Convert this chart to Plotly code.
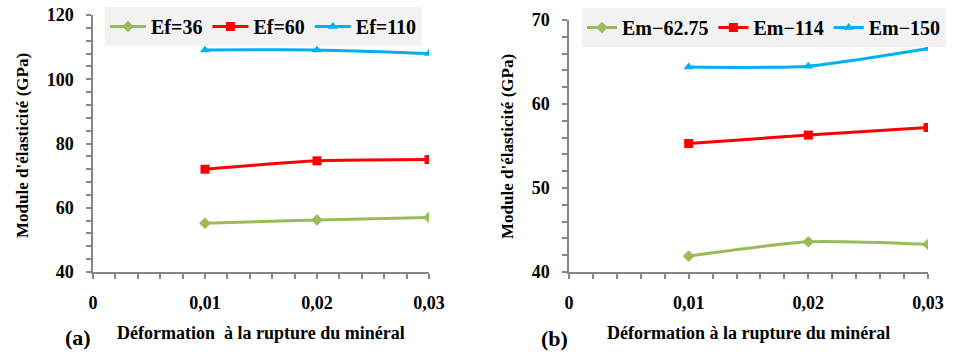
import plotly.graph_objects as go

# ---- data ----
strain = [0.01, 0.02, 0.03]
x_tickvals = [0, 0.01, 0.02, 0.03]
x_ticktext = ["0", "0,01", "0,02", "0,03"]

# panel (a)
ef36 = [55.2, 56.2, 57.0]
ef60 = [72.0, 74.6, 75.0]
ef110 = [109.1, 109.1, 108.0]
names_a = ["Ef=36", "Ef=60", "Ef=110"]

# panel (b)
em62 = [41.9, 43.6, 43.3]
em114 = [55.3, 56.3, 57.2]
em150 = [64.4, 64.5, 66.6]
names_b = ["Em\u221262.75", "Em\u2212114", "Em\u2212150"]

colors = ["#9BBB59", "#FF0000", "#00B0F0"]
symbols = ["diamond", "square", "triangle-up"]

W, H = 960, 352
SERIF = "Liberation Serif"
AX = "#868686"

fig = go.Figure()

for i, (vals, name) in enumerate(zip([ef36, ef60, ef110], names_a)):
    fig.add_trace(go.Scatter(
        x=strain, y=vals, name=name, mode="lines+markers",
        line=dict(color=colors[i], width=3, shape="spline", smoothing=0.6),
        marker=dict(symbol=symbols[i], size=9, color=colors[i]),
        xaxis="x", yaxis="y", legend="legend"))

for i, (vals, name) in enumerate(zip([em62, em114, em150], names_b)):
    fig.add_trace(go.Scatter(
        x=strain, y=vals, name=name, mode="lines+markers",
        line=dict(color=colors[i], width=3, shape="spline", smoothing=0.6),
        marker=dict(symbol=symbols[i], size=9, color=colors[i]),
        xaxis="x2", yaxis="y2", legend="legend2"))


def px_x(p):
    return p / W


def px_y(p):
    return 1 - p / H


tickfont = dict(family=SERIF, size=18, color="black", weight="bold")

xa_dom = [px_x(93), px_x(429)]
ya_dom = [px_y(272), px_y(15)]
xb_dom = [px_x(569), px_x(928)]
yb_dom = [px_y(272), px_y(20)]


def xaxis(dom, anchor, overlay=None, inside=False):
    d = dict(domain=dom, anchor=anchor, range=[0, 0.03], automargin=False,
             showgrid=False, zeroline=False,
             tickvals=x_tickvals, ticktext=x_ticktext,
             ticks="inside" if inside else "outside", ticklen=5, tickwidth=1.5,
             tickcolor=AX,
             minor=dict(dtick=0.002, tick0=0, ticks="inside" if inside else "outside",
                        ticklen=5, tickwidth=1.5, tickcolor=AX, showgrid=False),
             tickfont=tickfont, fixedrange=True)
    if inside:
        d.update(showline=False, showticklabels=False, overlaying=overlay)
    else:
        d.update(showline=True, linecolor=AX, linewidth=1.5, ticklabelstandoff=9)
    return d


def yaxis(dom, anchor, rng, dtick, mdtick, overlay=None, inside=False):
    d = dict(domain=dom, anchor=anchor, range=rng, dtick=dtick, tick0=rng[0],
             automargin=False, showgrid=False, zeroline=False,
             ticks="inside" if inside else "outside", ticklen=5, tickwidth=1.5,
             tickcolor=AX,
             minor=dict(dtick=mdtick, tick0=rng[0], ticks="inside" if inside else "outside",
                        ticklen=5, tickwidth=1.5, tickcolor=AX, showgrid=False),
             tickfont=tickfont, fixedrange=True)
    if inside:
        d.update(showline=False, showticklabels=False, overlaying=overlay)
    else:
        d.update(showline=True, linecolor=AX, linewidth=1.5, ticklabelstandoff=9)
    return d


legend_font = dict(family=SERIF, size=20, color="black", weight="bold")
ytitle_font = dict(family=SERIF, size=17, color="black", weight="bold")
xtitle_font = dict(family=SERIF, size=18, color="black", weight="bold")
tag_font = dict(family=SERIF, size=22, color="black", weight="bold")


def ann(text, x, y, font, angle=0):
    return dict(text=text, textangle=angle, x=px_x(x), y=px_y(y),
                xref="paper", yref="paper", xanchor="center", yanchor="middle",
                showarrow=False, font=font)


fig.update_layout(
    width=W, height=H,
    margin=dict(l=0, r=0, t=0, b=0, autoexpand=False),
    paper_bgcolor="white", plot_bgcolor="white",
    showlegend=True,
    xaxis=xaxis(xa_dom, "y"),
    yaxis=yaxis(ya_dom, "x", [40, 120], 20, 4),
    xaxis2=xaxis(xb_dom, "y2"),
    yaxis2=yaxis(yb_dom, "x2", [40, 70], 10, 2),
    xaxis3=xaxis(xa_dom, "y", overlay="x", inside=True),
    yaxis3=yaxis(ya_dom, "x", [40, 120], 20, 4, overlay="y", inside=True),
    xaxis4=xaxis(xb_dom, "y2", overlay="x2", inside=True),
    yaxis4=yaxis(yb_dom, "x2", [40, 70], 10, 2, overlay="y2", inside=True),
    legend=dict(orientation="h", x=px_x(105), y=px_y(7), xanchor="left", yanchor="top",
                bgcolor="#F2F2F2", font=legend_font, itemwidth=36),
    legend2=dict(orientation="h", x=px_x(582), y=px_y(8), xanchor="left", yanchor="top",
                 bgcolor="#F2F2F2", font=legend_font, itemwidth=30),
    annotations=[
        ann("Module d'élasticité (GPa)", 22, 146, ytitle_font, -90),
        ann("Module d'élasticité (GPa)", 507, 146, ytitle_font, -90),
        ann("Déformation  à la rupture du minéral", 261, 333, xtitle_font),
        ann("Déformation à la rupture du minéral", 748, 333, xtitle_font),
        ann("(a)", 78, 337, tag_font),
        ann("(b)", 554, 338, tag_font),
    ],
)

fig.write_html("out.html", config={"displayModeBar": False},
               post_script="document.body.style.margin='0';")
